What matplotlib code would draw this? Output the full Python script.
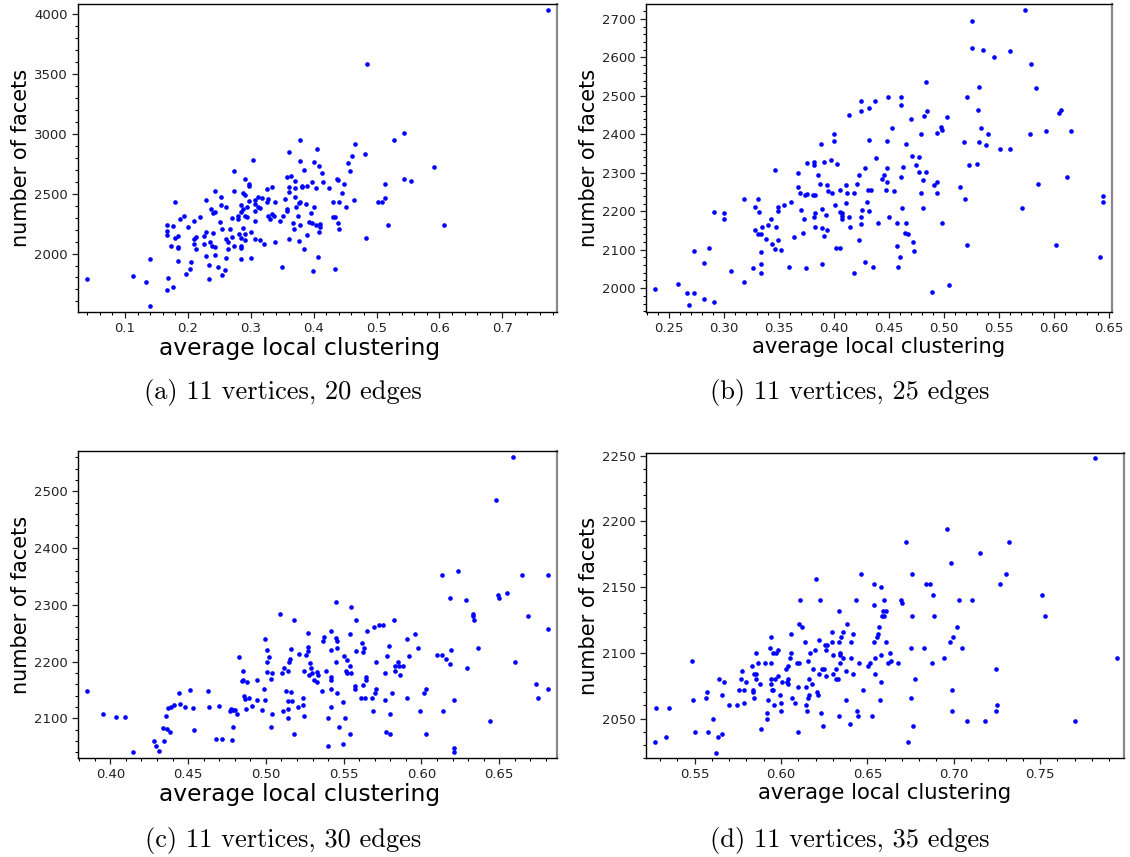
import matplotlib
matplotlib.use("Agg")
import matplotlib.pyplot as plt
from matplotlib.ticker import AutoMinorLocator, MultipleLocator

# (a) 11 vertices, 20 edges
clust_20 = [0.0395, 0.1127, 0.1334, 0.1403, 0.1403, 0.1674, 0.1674, 0.167, 0.168, 0.167,
            0.173, 0.176, 0.176, 0.179, 0.180, 0.185, 0.185, 0.185, 0.185, 0.188,
            0.194, 0.197, 0.200, 0.205, 0.204, 0.209, 0.210, 0.210, 0.213, 0.213,
            0.219, 0.225, 0.225, 0.228, 0.228, 0.228, 0.234, 0.234, 0.235, 0.237,
            0.238, 0.240, 0.240, 0.243, 0.243, 0.243, 0.243, 0.248, 0.251, 0.252,
            0.252, 0.254, 0.255, 0.259, 0.261, 0.261, 0.261, 0.264, 0.264, 0.267,
            0.270, 0.270, 0.273, 0.273, 0.273, 0.279, 0.279, 0.282, 0.285, 0.285,
            0.285, 0.285, 0.285, 0.285, 0.287, 0.288, 0.288, 0.291, 0.291, 0.291,
            0.291, 0.291, 0.294, 0.294, 0.297, 0.297, 0.297, 0.300, 0.301, 0.303,
            0.306, 0.306, 0.306, 0.306, 0.306, 0.312, 0.312, 0.315, 0.315, 0.318,
            0.321, 0.325, 0.325, 0.328, 0.328, 0.330, 0.334, 0.334, 0.337, 0.339,
            0.339, 0.346, 0.349, 0.352, 0.355, 0.358, 0.358, 0.358, 0.361, 0.361,
            0.361, 0.361, 0.364, 0.367, 0.369, 0.370, 0.370, 0.370, 0.372, 0.375,
            0.376, 0.376, 0.378, 0.379, 0.379, 0.379, 0.382, 0.382, 0.385, 0.385,
            0.388, 0.389, 0.390, 0.393, 0.396, 0.398, 0.398, 0.399, 0.400, 0.400,
            0.403, 0.403, 0.406, 0.407, 0.409, 0.409, 0.410, 0.410,
            0.4126, 0.415, 0.425, 0.431, 0.431, 0.434, 0.434, 0.437, 0.439, 0.438,
            0.440, 0.441, 0.445, 0.448, 0.452, 0.455, 0.458, 0.461, 0.464, 0.466,
            0.482, 0.484, 0.485, 0.503, 0.509, 0.513, 0.514, 0.518, 0.528, 0.543,
            0.544, 0.555, 0.591, 0.607, 0.772]
facets_20 = [1788, 1816, 1763, 1953, 1562, 2237, 2187, 2153, 1796, 1696,
             2064, 2226, 1724, 2427, 2131, 2142, 2053, 2045, 1939, 2287,
             2310, 1830, 2220, 1933, 1872, 2271, 2123, 2081, 2134, 2039,
             2304, 2081, 2145, 2446, 2181, 1983, 1902, 1788, 2095, 2374,
             2059, 2335, 2173, 2346, 2519, 2056, 1986, 1891, 2262, 2471,
             2407, 2206, 1822, 1866, 2390, 2125, 1961, 2100, 2039, 2206,
             2296, 2134, 2689, 2519, 2061, 2312, 2284, 2167, 2404, 2346,
             2128, 2061, 2050, 1953, 2212, 2371, 2505, 2619, 2488, 2310,
             2159, 2114, 2304, 2390, 2440, 2580, 2561, 1966, 2176, 2784,
             2351, 2273, 2446, 2415, 2120, 2471, 2390, 2114, 2379, 2463,
             2081, 2432, 2536, 2457, 2312, 2287, 2555, 2329, 2312, 2427,
             2095, 2273, 1886, 2312, 2457, 2357, 2368, 2641, 2848, 2558,
             2117, 2513, 2650, 2251, 2206, 2605, 2471, 2544, 2390, 2315,
             2421, 2103, 2427, 2948, 2770, 2240, 2552, 2563, 2695, 2039,
             2415, 2151, 2566, 2259, 2335, 2597, 2251, 1855, 2390, 2762,
             2544, 2240, 2873, 1969, 2734, 2176, 2245, 2223,
             2672, 2600, 2544, 2432, 2304, 2304, 1872, 2622, 2611, 2257,
             2432, 2206, 2505, 2578, 2385, 2753, 2689, 2817, 2449, 2912,
             2829, 2128, 3582, 2432, 2432, 2463, 2578, 2240, 2951, 2625,
             3007, 2608, 2723, 2240, 4034]

# (b) 11 vertices, 25 edges
clust_25 = [0.237, 0.258, 0.266, 0.268, 0.273, 0.273, 0.282, 0.282, 0.286, 0.291,
            0.291, 0.300, 0.300, 0.306, 0.318, 0.318, 0.326, 0.328, 0.328, 0.331,
            0.331, 0.332, 0.334, 0.334, 0.334, 0.334, 0.335, 0.338, 0.340, 0.343,
            0.344, 0.346, 0.346, 0.347, 0.349, 0.349, 0.349, 0.352, 0.355, 0.359,
            0.361, 0.364, 0.367, 0.367, 0.369, 0.370, 0.372, 0.373, 0.374, 0.376,
            0.376, 0.375, 0.381, 0.382, 0.382, 0.382, 0.383, 0.383, 0.383, 0.386,
            0.387, 0.388, 0.389, 0.389, 0.389, 0.391, 0.391, 0.393, 0.394, 0.394,
            0.395, 0.397, 0.398, 0.400, 0.400, 0.401, 0.402, 0.403, 0.406, 0.406,
            0.406, 0.407, 0.407, 0.407, 0.411, 0.411, 0.412, 0.414, 0.414, 0.415,
            0.418, 0.418, 0.421, 0.423, 0.423, 0.425, 0.425, 0.425, 0.425, 0.426,
            0.428, 0.428, 0.430, 0.431, 0.432, 0.432, 0.432,
            0.4336, 0.4355, 0.437, 0.438, 0.440, 0.444, 0.446, 0.447, 0.448, 0.448,
            0.448, 0.449, 0.450, 0.453, 0.455, 0.457, 0.457, 0.458, 0.461, 0.460,
            0.461, 0.461, 0.462, 0.463, 0.465, 0.466, 0.466, 0.467, 0.470, 0.471,
            0.472, 0.473, 0.475, 0.477, 0.477, 0.479, 0.479, 0.481, 0.481, 0.482,
            0.484, 0.484, 0.485, 0.489, 0.491, 0.494, 0.494, 0.494, 0.497, 0.498,
            0.498, 0.503, 0.505, 0.515, 0.518, 0.519, 0.521, 0.521, 0.523, 0.526,
            0.526, 0.530, 0.531, 0.532, 0.532, 0.534, 0.536, 0.538, 0.540, 0.546,
            0.551, 0.560, 0.560, 0.571, 0.574, 0.578, 0.579, 0.584, 0.586, 0.593,
            0.602, 0.605, 0.607, 0.612, 0.616, 0.642, 0.645, 0.645]
facets_25 = [1998, 2012, 1988, 1955, 1988, 2096, 1972, 2066, 2104, 1964,
             2198, 2196, 2180, 2044, 2016, 2232, 2053, 2212, 2152, 2232,
             2141, 2198, 2141, 2095, 2064, 2040, 2160, 2129, 2165, 2181,
             2116, 2306, 2102, 2160, 2212, 2200, 2124, 2100, 2216, 2056,
             2224, 2134, 2300, 2262, 2248, 2204, 2144, 2180, 2242, 2326,
             2244, 2052, 2241, 2184, 2321, 2327, 2241, 2196, 2160, 2293,
             2270, 2375, 2206, 2156, 2064, 2136, 2328, 2190, 2268, 2151,
             2253, 2334, 2248, 2401, 2384, 2216, 2104, 2324, 2255, 2199,
             2104, 2195, 2188, 2180, 2268, 2222, 2248, 2450, 2184, 2160,
             2248, 2040, 2272, 2295, 2124, 2487, 2460, 2184, 2168, 2202,
             2312, 2068, 2224, 2255, 2468, 2386, 2200,
             2256, 2056, 2488, 2338, 2169, 2285, 2293, 2256, 2312, 2276,
             2384, 2496, 2184, 2416, 2253, 2169, 2109, 2056, 2288, 2081,
             2496, 2476, 2209, 2316, 2144, 2376, 2169, 2140, 2440, 2344,
             2121, 2096, 2320, 2340, 2301, 2248, 2400, 2209, 2280, 2447,
             2301, 2536, 2460, 1990, 2268, 2404, 2248, 2276, 2420, 2169,
             2412, 2444, 2009, 2264, 2381, 2232, 2112, 2496, 2321, 2696,
             2624, 2324, 2464, 2381, 2524, 2416, 2620, 2372, 2400, 2602,
             2361, 2361, 2616, 2209, 2724, 2400, 2584, 2520, 2272, 2408,
             2112, 2456, 2464, 2288, 2408, 2081, 2224, 2240]

# (c) 11 vertices, 30 edges
clust_30 = [0.385, 0.395, 0.4036, 0.4097, 0.4148, 0.428, 0.4296, 0.431, 0.4345, 0.434,
            0.436, 0.4367, 0.437, 0.4386, 0.439, 0.441, 0.4444, 0.445, 0.4479, 0.451,
            0.4534, 0.4536, 0.463, 0.4637, 0.468, 0.4697, 0.472, 0.4768, 0.4775, 0.4785,
            0.479, 0.479, 0.4798, 0.4815, 0.4824, 0.4843, 0.485, 0.485, 0.4856, 0.4865,
            0.487, 0.488, 0.4888, 0.491, 0.494, 0.4944, 0.4976, 0.4985, 0.4994, 0.4996,
            0.5006, 0.501, 0.501, 0.502, 0.503, 0.5034, 0.5036, 0.5036, 0.509, 0.5105,
            0.5107, 0.5118, 0.5127, 0.514, 0.514, 0.514, 0.514, 0.515, 0.516, 0.516,
            0.5157, 0.5167, 0.5178, 0.5178, 0.5206, 0.521, 0.5236, 0.524, 0.5245, 0.5247,
            0.526, 0.527, 0.527, 0.5268, 0.528, 0.5283, 0.529, 0.5294, 0.531, 0.5326,
            0.533, 0.5337,
            0.5363, 0.5369, 0.5373, 0.5384, 0.540, 0.540, 0.5418, 0.542, 0.542, 0.542,
            0.542, 0.542, 0.545, 0.5451, 0.5453, 0.5455, 0.5457, 0.5457, 0.547, 0.5495,
            0.5497, 0.550, 0.551, 0.5517, 0.552, 0.5523, 0.554, 0.554, 0.5543, 0.555,
            0.555, 0.557, 0.557, 0.5577, 0.558, 0.5613, 0.562, 0.5624, 0.5626, 0.563,
            0.5637, 0.5645, 0.5645, 0.5647, 0.5685, 0.569, 0.5695, 0.570, 0.571, 0.571,
            0.5725, 0.5755, 0.5765, 0.5768, 0.577, 0.578, 0.579, 0.580, 0.580, 0.5808,
            0.5826, 0.583, 0.583, 0.585, 0.5858, 0.5865, 0.588, 0.5906, 0.591, 0.592,
            0.5957, 0.5977, 0.599, 0.6018, 0.603, 0.6030, 0.6097, 0.613, 0.613, 0.614,
            0.616, 0.618, 0.618, 0.619, 0.621, 0.621, 0.621, 0.6234, 0.6283, 0.629,
            0.633, 0.633, 0.6335, 0.636, 0.6443, 0.648, 0.649, 0.6497, 0.655, 0.6586,
            0.660, 0.6646, 0.6687, 0.6739, 0.6747, 0.681, 0.681, 0.681]
facets_30 = [2148, 2108, 2102, 2102, 2040, 2060, 2052, 2042, 2060, 2082,
             2104, 2081, 2118, 2076, 2120, 2124, 2144, 2126, 2120, 2150,
             2118, 2080, 2148, 2120, 2064, 2122, 2064, 2113, 2116, 2062,
             2115, 2084, 2114, 2108, 2208, 2166, 2184, 2168, 2140, 2134,
             2116, 2164, 2136, 2122, 2168, 2132, 2114, 2152, 2240, 2132,
             2220, 2200, 2182, 2208, 2084, 2170, 2180, 2108, 2284, 2180,
             2112, 2188, 2148, 2184, 2130, 2116, 2100, 2200, 2146, 2222,
             2204, 2130, 2274, 2072, 2120, 2214, 2124, 2136, 2184, 2104,
             2212, 2250, 2218, 2226, 2176, 2198, 2188, 2180, 2168, 2164,
             2181, 2176,
             2148, 2236, 2244, 2184, 2100, 2052, 2120, 2220, 2254, 2168,
             2152, 2172, 2200, 2242, 2305, 2236, 2224, 2145, 2084, 2128,
             2054, 2209, 2100, 2184, 2180, 2202, 2192, 2072, 2249, 2296,
             2180, 2152, 2156, 2219, 2273, 2136, 2232, 2217, 2158, 2224,
             2136, 2172, 2168, 2253, 2136, 2112, 2260, 2144, 2200, 2152,
             2264, 2264, 2180, 2132, 2076, 2209, 2228, 2108, 2072, 2144,
             2273, 2192, 2184, 2200, 2192, 2176, 2192, 2136, 2240, 2209,
             2249, 2224, 2112, 2145, 2152, 2072, 2212, 2352, 2212, 2112,
             2204, 2196, 2312, 2220, 2132, 2048, 2041, 2360, 2308, 2189,
             2284, 2280, 2273, 2224, 2096, 2485, 2317, 2312, 2321, 2560,
             2200, 2352, 2280, 2160, 2136, 2352, 2257, 2152]

# (d) 11 vertices, 35 edges
clust_35 = [0.5271, 0.5277, 0.5337, 0.5353, 0.5483, 0.5492, 0.550, 0.5564, 0.557, 0.5578,
            0.5605, 0.5626, 0.5638, 0.564, 0.5657, 0.5657, 0.5669, 0.5702, 0.5746, 0.5758,
            0.5767, 0.5773, 0.5785, 0.5787, 0.5798, 0.5835, 0.5839, 0.584, 0.5843, 0.5845,
            0.5857, 0.5858, 0.5858, 0.5868, 0.588, 0.5886, 0.5905, 0.5917, 0.5919, 0.5924,
            0.5934, 0.5942, 0.5944, 0.594, 0.5944, 0.5948, 0.5955, 0.5961, 0.5953, 0.5966,
            0.5973, 0.5983, 0.5984, 0.5994, 0.6002, 0.6002, 0.6008, 0.6029, 0.6035, 0.6043,
            0.6041, 0.6043, 0.605, 0.6056, 0.606, 0.6066, 0.6083, 0.6091, 0.6097, 0.6101,
            0.6105, 0.6105, 0.611, 0.612, 0.6138, 0.6143, 0.6143, 0.6149, 0.6157, 0.6157,
            0.616, 0.616, 0.617, 0.618, 0.6185, 0.6195, 0.620, 0.621, 0.6215, 0.6219,
            0.622, 0.6223, 0.6229, 0.6236, 0.6242, 0.625, 0.6252, 0.6262, 0.6262, 0.6267,
            0.6297, 0.6298, 0.6302, 0.6302, 0.6318, 0.632, 0.6329, 0.6333, 0.6337, 0.6337,
            0.6339, 0.6341, 0.6341, 0.6345, 0.6357, 0.6361, 0.6374, 0.6378, 0.6384, 0.640,
            0.6405, 0.6407, 0.6415, 0.6419, 0.6436, 0.6442, 0.6446, 0.645, 0.6461, 0.6473,
            0.6504, 0.6514,
            0.6527, 0.6539, 0.6539, 0.6539, 0.6547, 0.6547, 0.6554, 0.6562, 0.6568, 0.6573,
            0.6577, 0.6579, 0.6581, 0.6585, 0.659, 0.6594, 0.6599, 0.661, 0.661, 0.6617,
            0.6629, 0.6637, 0.6675, 0.6697, 0.6701, 0.6725, 0.6736, 0.675, 0.6754, 0.6756,
            0.676, 0.6764, 0.6775, 0.6827, 0.6839, 0.6862, 0.6874, 0.6882, 0.6888, 0.6946,
            0.696, 0.6977, 0.6985, 0.6987, 0.6987, 0.6994, 0.7019, 0.7031, 0.7045, 0.7076,
            0.7106, 0.7149, 0.7178, 0.7242, 0.7244, 0.725, 0.7267, 0.7304, 0.732, 0.7512,
            0.7527, 0.7704, 0.7816, 0.7944]
facets_35 = [2032, 2058, 2036, 2058, 2094, 2064, 2040, 2066, 2070, 2040,
             2050, 2024, 2036, 2080, 2038, 2068, 2078, 2060, 2060, 2072,
             2080, 2086, 2062, 2072, 2078, 2090, 2070, 2072, 2066, 2084,
             2080, 2084, 2100, 2092, 2076, 2042, 2092, 2054, 2050, 2064,
             2104, 2112, 2092, 2080, 2076, 2072, 2072, 2060, 2100, 2080,
             2100, 2082, 2102, 2068, 2062, 2056, 2078, 2088, 2078, 2080,
             2076, 2090, 2096, 2100, 2114, 2066, 2062, 2092, 2074, 2040,
             2122, 2092, 2140, 2120, 2108, 2074, 2060, 2056, 2094, 2066,
             2080, 2068, 2100, 2076, 2088, 2102, 2156, 2070, 2068, 2084,
             2110, 2140, 2054, 2088, 2044, 2088, 2106, 2102, 2082, 2106,
             2108, 2116, 2098, 2084, 2088, 2080, 2080, 2108, 2132, 2052,
             2100, 2098, 2092, 2112, 2096, 2116, 2086, 2064, 2122, 2046,
             2096, 2108, 2084, 2114, 2140, 2056, 2052, 2092, 2160, 2072,
             2090, 2092,
             2052, 2152, 2136, 2108, 2084, 2096, 2112, 2114, 2120, 2064,
             2078, 2098, 2150, 2128, 2132, 2140, 2128, 2108, 2132, 2092,
             2100, 2094, 2092, 2140, 2138, 2184, 2032, 2104, 2066, 2128,
             2160, 2044, 2080, 2104, 2152, 2152, 2092, 2144, 2128, 2096,
             2194, 2108, 2168, 2072, 2056, 2112, 2120, 2140, 2104, 2048,
             2140, 2176, 2048, 2056, 2088, 2060, 2152, 2160, 2184, 2144,
             2128, 2048, 2248, 2096]

captions = ["(a) 11 vertices, 20 edges", "(b) 11 vertices, 25 edges",
            "(c) 11 vertices, 30 edges", "(d) 11 vertices, 35 edges"]

W, H = 1130, 857
fig = plt.figure(figsize=(W / 100, H / 100), dpi=100)

# pixel boxes (left, top, right, bottom), data limits,
# major tick steps, x-label centre (axes fraction) and x-label size
panels = [
    (clust_20, facets_20, (78, 4, 557, 312), (0.0252, 0.787), (1512, 4082), 0.1, 500, 0.462, 16.8),
    (clust_25, facets_25, (646, 4, 1112, 312), (0.2291, 0.653), (1938, 2739), 0.05, 100, 0.5, 15.2),
    (clust_30, facets_30, (78, 451, 557, 758), (0.3792, 0.6871), (2030, 2571), 0.05, 100, 0.462, 16.8),
    (clust_35, facets_35, (646, 453, 1124, 758), (0.5219, 0.7985), (2020, 2252), 0.05, 50, 0.5, 15.2),
]

for x, y, (l, t, r, b), xlim, ylim, xmaj, ymaj, xlab, xsize in panels:
    ax = fig.add_axes([l / W, 1 - b / H, (r - l) / W, (b - t) / H])
    ax.scatter(x, y, s=11, color="#0000ff", linewidths=0, zorder=3)
    ax.set_xlim(*xlim)
    ax.set_ylim(*ylim)
    ax.xaxis.set_major_locator(MultipleLocator(xmaj))
    ax.yaxis.set_major_locator(MultipleLocator(ymaj))
    ax.xaxis.set_minor_locator(AutoMinorLocator(5))
    ax.yaxis.set_minor_locator(AutoMinorLocator(5))
    ax.tick_params(which="major", direction="out", length=4, width=0.9,
                   labelsize=9.5, colors="#222222")
    ax.tick_params(which="minor", direction="out", length=2.2, width=0.8)
    ax.tick_params(top=False, right=False, which="both")
    for side in ["left", "bottom", "top"]:
        ax.spines[side].set_linewidth(1.0)
        ax.spines[side].set_color("black")
    ax.spines["right"].set_color("#888888")
    ax.spines["right"].set_linewidth(1.6)
    ax.set_xlabel("average local clustering", fontsize=xsize, labelpad=1, x=xlab)
    ax.set_ylabel("number of facets", fontsize=15, labelpad=2)

cap_pos = [(283, 393), (850, 393), (283, 840), (850, 840)]
for (cx, cy), text in zip(cap_pos, captions):
    fig.text(cx / W, 1 - cy / H, text, ha="center", va="center",
             fontsize=19, family="cmr10")

fig.savefig("out.png", dpi=100)
